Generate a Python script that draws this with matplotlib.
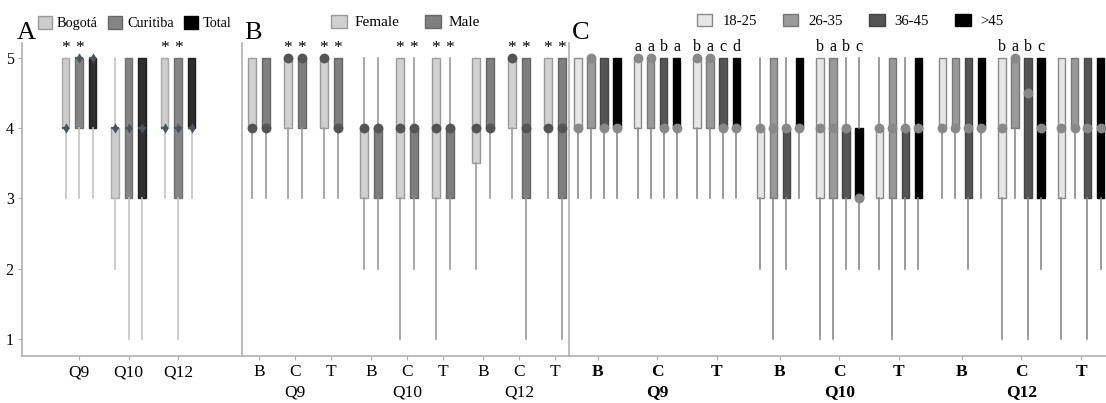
import matplotlib
matplotlib.use('Agg')
import matplotlib.pyplot as plt
from matplotlib.patches import Patch

plt.rcParams['font.family'] = ['Liberation Serif', 'DejaVu Serif']

# ---------------- data: each entry = (whisker low, Q1, median, Q3, whisker high)
# Panel A: by city, groups Q9, Q10, Q12
a_groups = ['Q9', 'Q10', 'Q12']
a_bogota = [(3, 4, 4, 5, 5), (2, 3, 4, 4, 5), (3, 4, 4, 5, 5)]
a_curitiba = [(3, 4, 5, 5, 5), (1, 3, 4, 5, 5), (1, 3, 4, 5, 5)]
a_total = [(3, 4, 5, 5, 5), (1, 3, 4, 5, 5), (3, 4, 4, 5, 5)]
a_star_groups = [0, 2]   # asterisks over Bogotá & Curitiba

# Panel B: by sex, subgroups B, C, T for Q9, Q10, Q12
b_ticks = ['B', 'C', 'T'] * 3
b_questions = ['Q9', 'Q10', 'Q12']
b_female = [(3, 4, 4, 5, 5), (3, 4, 5, 5, 5), (3, 4, 5, 5, 5),
            (2, 3, 4, 4, 5), (1, 3, 4, 5, 5), (1, 3, 4, 5, 5),
            (2, 3.5, 4, 5, 5), (3, 4, 5, 5, 5), (3, 4, 4, 5, 5)]
b_male = [(3, 4, 4, 5, 5), (3, 4, 5, 5, 5), (3, 4, 4, 5, 5),
          (2, 3, 4, 4, 5), (2, 3, 4, 4, 5), (2, 3, 4, 4, 5),
          (3, 4, 4, 5, 5), (1, 3, 4, 5, 5), (1, 3, 4, 5, 5)]
b_star_groups = [1, 2, 4, 5, 7, 8]

# Panel C: by age group
c_ticks = ['B', 'C', 'T'] * 3
c_questions = ['Q9', 'Q10', 'Q12']
c_age_labels = ['18-25', '26-35', '36-45', '>45']
c_18_25 = [(3, 4, 4, 5, 5), (3, 4, 5, 5, 5), (3, 4, 5, 5, 5),
           (2, 3, 4, 4, 5), (1, 3, 4, 5, 5), (2, 3, 4, 4, 5),
           (3, 4, 4, 5, 5), (1, 3, 4, 5, 5), (1, 3, 4, 5, 5)]
c_26_35 = [(3, 4, 5, 5, 5), (3, 4, 5, 5, 5), (3, 4, 5, 5, 5),
           (1, 3, 4, 5, 5), (1, 3, 4, 5, 5), (1, 3, 4, 5, 5),
           (3, 4, 4, 5, 5), (3, 4, 5, 5, 5), (3, 4, 4, 5, 5)]
c_36_45 = [(3, 4, 4, 5, 5), (3, 4, 4, 5, 5), (3, 4, 4, 5, 5),
           (2, 3, 4, 4, 5), (2, 3, 4, 4, 5), (2, 3, 4, 4, 5),
           (2, 3, 4, 5, 5), (1, 3, 4.5, 5, 5), (1, 3, 4, 5, 5)]
c_over_45 = [(3, 4, 4, 5, 5), (3, 4, 4, 5, 5), (3, 4, 4, 5, 5),
             (3, 4, 4, 5, 5), (2, 3, 3, 4, 5), (2, 3, 4, 5, 5),
             (3, 4, 4, 5, 5), (2, 3, 4, 5, 5), (2, 3, 4, 5, 5)]
c_letters = {1: ['a', 'a', 'b', 'a'], 2: ['b', 'a', 'c', 'd'],
             4: ['b', 'a', 'b', 'c'], 7: ['b', 'a', 'b', 'c']}

# ---------------- figure
W, H = 1106, 403
fig = plt.figure(figsize=(W / 100, H / 100), dpi=100)
SPINE = '#b0b0b0'
Y0, Y1 = 0.758, 5.21


def fx(px):
    return px / W


def draw(ax, positions, stats, face, edge, width, wcol, mcol, msize, mmarker, medline=False):
    st = [dict(whislo=s[0], q1=s[1], med=s[2], q3=s[3], whishi=s[4], fliers=[]) for s in stats]
    ax.bxp(st, positions=positions, widths=width, patch_artist=True, showcaps=False,
           showfliers=False,
           boxprops=dict(facecolor=face, edgecolor=edge, linewidth=1.0),
           whiskerprops=dict(color=wcol, linewidth=1.2),
           medianprops=dict(color=mcol, linewidth=1.6 if medline else 0))
    ax.scatter(positions, [s[2] for s in stats], s=msize, color=mcol, marker=mmarker,
               zorder=5, linewidths=0)


def style(ax):
    for side in ['top', 'right']:
        ax.spines[side].set_visible(False)
    for side in ['left', 'bottom']:
        ax.spines[side].set_color(SPINE)
        ax.spines[side].set_linewidth(1.2)
    ax.set_ylim(Y0, Y1)
    ax.tick_params(axis='x', length=3, color=SPINE, pad=3, labelsize=12.5)


# ---------------- Panel A
axA = fig.add_axes([fx(22), 47 / H, fx(218), 313 / H])
style(axA)
a_pos = list(range(len(a_groups)))
offA, wA = 0.273, 0.15
a_series = [('Bogotá', a_bogota, '#cdcdcd', '#a8a8a8'),
            ('Curitiba', a_curitiba, '#858585', '#707070'),
            ('Total', a_total, '#2e2e2e', '#1e1e1e')]
for k, (name, data, face, edge) in enumerate(a_series):
    pos = [p + (k - 1) * offA for p in a_pos]
    draw(axA, pos, data, face, edge, wA, '#c4c4c4', '#4b5560', 28, 'd', medline=True)
for g in a_star_groups:
    for k in range(2):
        axA.text(a_pos[g] + (k - 1) * offA, 5.14, '*', ha='center', va='center', fontsize=12.5)
axA.set_xlim(-1.152, 3.25)
axA.set_xticks(a_pos)
axA.set_xticklabels(a_groups)
axA.set_yticks([1, 2, 3, 4, 5])
axA.tick_params(axis='y', length=3, color=SPINE, pad=3, labelsize=11.5)

# ---------------- Panel B
axB = fig.add_axes([fx(242), 47 / H, fx(328), 313 / H])
style(axB)
b_pos = [i + 0.11 * (i // 3) for i in range(len(b_ticks))]
offB, wB = 0.194, 0.22
b_series = [('Female', b_female, '#d0d0d0', '#9a9a9a'),
            ('Male', b_male, '#7f7f7f', '#666666')]
for k, (name, data, face, edge) in enumerate(b_series):
    pos = [p + (2 * k - 1) * offB for p in b_pos]
    draw(axB, pos, data, face, edge, wB, '#9a9a9a', '#555555', 50, 'o')
for g in b_star_groups:
    for k in range(2):
        axB.text(b_pos[g] + (2 * k - 1) * offB, 5.14, '*', ha='center', va='center', fontsize=12.5)
axB.set_xlim(-0.472, 8.64)
axB.set_xticks(b_pos)
axB.set_xticklabels(b_ticks)
axB.set_yticks([])
for j, q in enumerate(b_questions):
    axB.text(b_pos[3 * j + 1], -0.118, q, transform=axB.get_xaxis_transform(),
             ha='center', va='center', fontsize=12.5)

# ---------------- Panel C
axC = fig.add_axes([fx(569), 47 / H, fx(537), 313 / H])
style(axC)
c_pos = [i + 0.06 * (i // 3) for i in range(len(c_ticks))]
offC = [-0.328, -0.109, 0.109, 0.328]
wC = 0.126
c_series = [(c_age_labels[0], c_18_25, '#e6e6e6', '#8a8a8a'),
            (c_age_labels[1], c_26_35, '#9a9a9a', '#787878'),
            (c_age_labels[2], c_36_45, '#555555', '#444444'),
            (c_age_labels[3], c_over_45, '#000000', '#000000')]
for k, (name, data, face, edge) in enumerate(c_series):
    pos = [p + offC[k] for p in c_pos]
    draw(axC, pos, data, face, edge, wC, '#8a8a8a', '#888888', 50, 'o')
for g, letters in c_letters.items():
    for k, lt in enumerate(letters):
        axC.text(c_pos[g] + offC[k], 5.16, lt, ha='center', va='center', fontsize=11.5)
axC.set_xlim(-0.482, 8.54)
axC.set_xticks(c_pos)
axC.set_xticklabels(c_ticks, fontweight='bold')
axC.set_yticks([])
for j, q in enumerate(c_questions):
    axC.text(c_pos[3 * j + 1], -0.115, q, transform=axC.get_xaxis_transform(),
             ha='center', va='center', fontsize=12.5, fontweight='bold')

# ---------------- legends
legA = fig.legend(handles=[Patch(facecolor=f, edgecolor=e, label=n) for n, f, e in
                           [('Bogotá', '#cdcdcd', '#999999'), ('Curitiba', '#858585', '#666666'),
                            ('Total', '#000000', '#000000')]],
                  loc='center left', bbox_to_anchor=(fx(38), 1 - 23 / H), ncol=3, frameon=False,
                  fontsize=10.3, handlelength=0.98, handleheight=0.98, handletextpad=0.35,
                  columnspacing=0.7, borderpad=0, borderaxespad=0)
legB = fig.legend(handles=[Patch(facecolor='#d0d0d0', edgecolor='#999999', label='Female'),
                           Patch(facecolor='#7f7f7f', edgecolor='#666666', label='Male')],
                  loc='center left', bbox_to_anchor=(fx(331), 1 - 22 / H), ncol=2, frameon=False,
                  fontsize=11, handlelength=1.05, handleheight=0.95, handletextpad=0.52,
                  columnspacing=1.63, borderpad=0, borderaxespad=0)
legC = fig.legend(handles=[Patch(facecolor=f, edgecolor=e, label=n) for n, _, f, e in c_series],
                  loc='center left', bbox_to_anchor=(fx(697), 1 - 21 / H), ncol=4, frameon=False,
                  fontsize=10.6, handlelength=1.05, handleheight=0.9, handletextpad=0.68,
                  columnspacing=1.77, borderpad=0, borderaxespad=0)

# panel letters
fig.text(fx(17), 1 - 39 / H, 'A', fontsize=19, va='baseline')
fig.text(fx(244), 1 - 39 / H, 'B', fontsize=19, va='baseline')
fig.text(fx(572), 1 - 39 / H, 'C', fontsize=19, va='baseline')

fig.savefig('out.png', dpi=100)
